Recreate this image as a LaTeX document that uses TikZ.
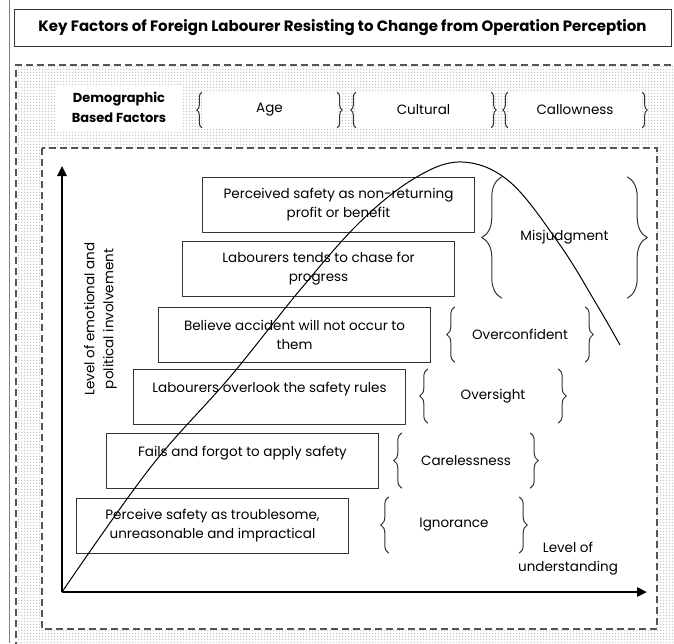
\documentclass[tikz,border=0pt]{standalone}
\usepackage{fontspec}
\setmainfont{Poppins}
\usetikzlibrary{arrows.meta,decorations.pathreplacing,patterns}
\pgfdeclarepatternformonly{finedots}{\pgfpointorigin}{\pgfpoint{2.6pt}{2.6pt}}{\pgfpoint{2.6pt}{2.6pt}}{\pgfpathrectangle{\pgfpointorigin}{\pgfpoint{1.3pt}{1.3pt}}\pgfusepath{fill}}
\definecolor{dashgray}{HTML}{555555}
\definecolor{boxgray}{HTML}{333333}
\newcommand\bodyf{\fontsize{13.5pt}{19pt}\selectfont}
\tikzset{
  stepbox/.style={draw=boxgray, line width=1pt, minimum width=272pt, minimum height=55pt,
    inner sep=0pt, font=\bodyf, align=center, anchor=north west},
  dashline/.style={draw=dashgray, line width=1.3pt, dash pattern=on 7pt off 4pt},
  axisline/.style={line width=2.4pt, -{Triangle[length=10pt,width=9pt]}},
  lbl/.style={inner sep=0pt, font=\bodyf, align=center},
  catbox/.style={fill=white, inner sep=0pt, minimum height=35pt, font=\bodyf},
  bracel/.style={draw=boxgray, line width=1pt, decorate, decoration={brace, amplitude=#1}},
}
\begin{document}
\begin{tikzpicture}[x=1pt, y=-1pt]
\useasboundingbox (0,0) rectangle (674,643);
\begin{scope}
\clip (0,0) rectangle (674,643);
% left margin line
\draw[gray, line width=1pt] (9,0) -- (9,643);
% title
\node[draw=boxgray, line width=1pt, minimum width=657pt, minimum height=37pt, inner sep=0pt,
      font=\bfseries\fontsize{15pt}{17pt}\selectfont] (title) at (342.5,27.5)
  {Key Factors of Foreign Labourer Resisting to Change from Operation Perception};
% outer dotted region
\fill[white] (16,65) rectangle (690,660);
\fill[pattern=finedots, pattern color=gray!45] (16,65) rectangle (690,660);
\draw[dashline] (16,660) -- (16,65) -- (690,65);
% demographic row
\node[fill=white, minimum width=126pt, minimum height=45pt, inner sep=0pt, align=center,
      font=\bfseries\fontsize{13pt}{20pt}\selectfont] (demo) at (119,107.5) {Demographic\\Based Factors};
\node[catbox, minimum width=135pt] (age) at (269.5,110) {Age};
\node[catbox, minimum width=135pt] (cult) at (423.5,110) {Cultural};
\node[catbox, minimum width=134pt] (call) at (575,110) {Callowness};
\foreach \n in {age,cult,call}{
  \draw[bracel=5pt] (\n.south west) -- (\n.north west);
  \draw[bracel=5pt] (\n.north east) -- (\n.south east);
}
% inner box
\fill[white] (42,148) rectangle (657,629);
\draw[dashline] (42,148) rectangle (657,629);
\end{scope}
% axes
\coordinate (O) at (62,592);
\coordinate (ytip) at (62,166);
\coordinate (xtip) at (647,592);
\draw[axisline] (O) -- (ytip);
\draw[axisline] (O) -- (xtip);
% boxes
\node[stepbox] (b1) at (202,177) {Perceived safety as non-returning\\profit or benefit};
\node[stepbox] (b2) at (182,241) {Labourers tends to chase for\\progress};
\node[stepbox] (b3) at (158,307) {Believe accident will not occur to\\them};
\node[stepbox] (b4) at (133,369) {Labourers overlook the safety rules\\\mbox{}};
\node[stepbox] (b5) at (106,433) {Fails and forgot to apply safety\\\mbox{}};
\node[stepbox] (b6) at (76,498) {Perceive safety as troublesome,\\unreasonable and impractical};
% labels with braces
\node[lbl, minimum width=125pt, minimum height=121pt] (misj) at (564.5,237.5) {Misjudgment};
\node[lbl, minimum width=130pt, minimum height=55pt] (overc) at (520,334.5) {Overconfident};
\node[lbl, minimum width=130pt, minimum height=54pt] (overs) at (493,396) {Oversight};
\node[lbl, minimum width=128pt, minimum height=55pt] (carel) at (466,460.5) {Carelessness};
\node[lbl, minimum width=130pt, minimum height=56pt] (ignor) at (454,525) {Ignorance};
\draw[bracel=20pt] (misj.south west) -- (misj.north west);
\draw[bracel=20pt] (misj.north east) -- (misj.south east);
\foreach \n in {overc,overs,carel,ignor}{
  \draw[bracel=8pt] (\n.south west) -- (\n.north west);
  \draw[bracel=8pt] (\n.north east) -- (\n.south east);
}
% axis labels
\node[lbl, rotate=90] (ylab) at (100.5,319) {Level of emotional and\\political involvement};
\node[lbl] (xlab) at (568,558.5) {Level of\\understanding};
% curve
\draw[line width=1pt, black] plot[smooth, tension=0.6] coordinates
  {(62,592) (150,468) (230,377) (300,290) (360,222) (415,178) (462,162) (510,182) (560,245) (597,305) (620,345)};
\end{tikzpicture}
\end{document}
